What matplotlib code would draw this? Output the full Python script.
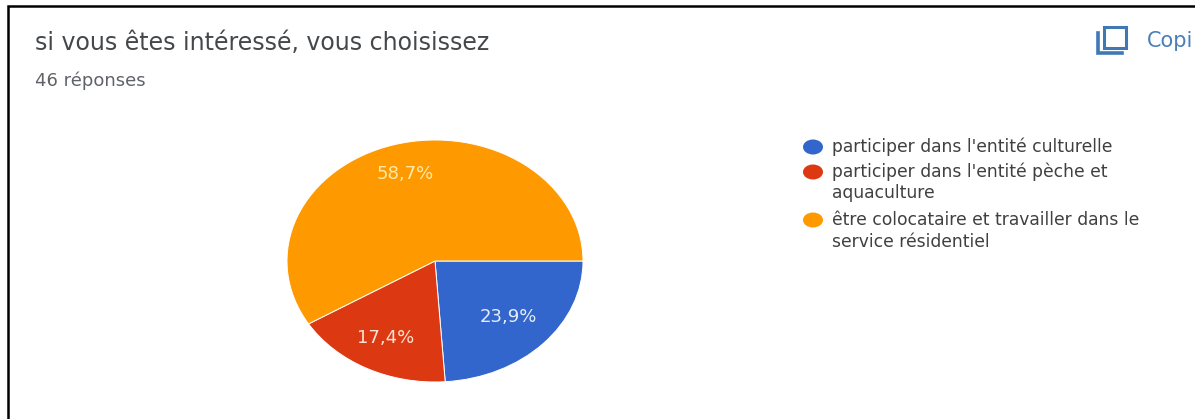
import matplotlib
matplotlib.use('Agg')
from matplotlib import pyplot as plt
from matplotlib.patches import Ellipse

W, H = 1195, 419

title = "si vous êtes intéressé, vous choisissez"
subtitle = "46 réponses"
copy_label = "Copi"
shares = [23.9, 17.4, 58.7]
share_labels = ["23,9%", "17,4%", "58,7%"]
share_text_colors = ['#e4eefc', '#fde3d4', '#ffe9a8']
colors = ['#3366cc', '#dc3912', '#ff9900']
legend_labels = [
    ["participer dans l'entité culturelle"],
    ["participer dans l'entité pèche et", "aquaculture"],
    ["être colocataire et travailler dans le", "service résidentiel"],
]

fig = plt.figure(figsize=(W / 100, H / 100), dpi=100, facecolor='white')

# background axes in pixel units, y pointing down
bg = fig.add_axes([0, 0, 1, 1])
bg.set_xlim(0, W)
bg.set_ylim(H, 0)
bg.axis('off')
bg.set_zorder(2)

# card border, left and top only
bg.plot([8, 8, W], [H, 6, 6], color='black', lw=1.8, solid_joinstyle='miter')

bg.text(35, 43, title, fontsize=17, family='DejaVu Sans', color='#45484b', va='center')
bg.text(35, 81, subtitle, fontsize=13, family='DejaVu Sans', color='#5f6368', va='center')

# copy icon
icon = '#3f78b5'
bg.plot([1098, 1098, 1122], [33, 53, 53], color=icon, lw=2.6, solid_joinstyle='miter')
bg.add_patch(plt.Rectangle((1104, 27), 22, 21, fill=False, ec=icon, lw=2.2))
bg.text(1147, 41, copy_label, fontsize=15, family='DejaVu Sans', color='#4a7fb8', va='center')

# legend, one text per line so the spacing follows the wrapped rows
legend_y = [[147], [172, 193], [220, 242]]
for rows, c, lines in zip(legend_y, colors, legend_labels):
    bg.add_patch(Ellipse((813, rows[0]), 20, 15, color=c, lw=0))
    for y, line in zip(rows, lines):
        bg.text(832, y, line, fontsize=12.3, family='DejaVu Sans', color='#404040', va='center')

# pie, clockwise from 3 o'clock, wider than tall
cx, cy, rx, ry = 435, 261, 148, 121
ax = fig.add_axes([(cx - rx) / W, 1 - (cy + ry) / H, 2 * rx / W, 2 * ry / H])
ax.pie(shares, colors=colors, startangle=0, counterclock=False, radius=1,
       wedgeprops={'linewidth': 0.7, 'edgecolor': 'white'})
ax.set_aspect('auto')
ax.set_xlim(-1, 1)
ax.set_ylim(-1, 1)

label_pos = [(508, 317), (386, 338), (405, 174)]
for (x, y), text, c in zip(label_pos, share_labels, share_text_colors):
    bg.text(x, y, text, fontsize=13, family='DejaVu Sans', color=c,
            ha='center', va='center', zorder=5)

fig.savefig('out.png', dpi=100)
